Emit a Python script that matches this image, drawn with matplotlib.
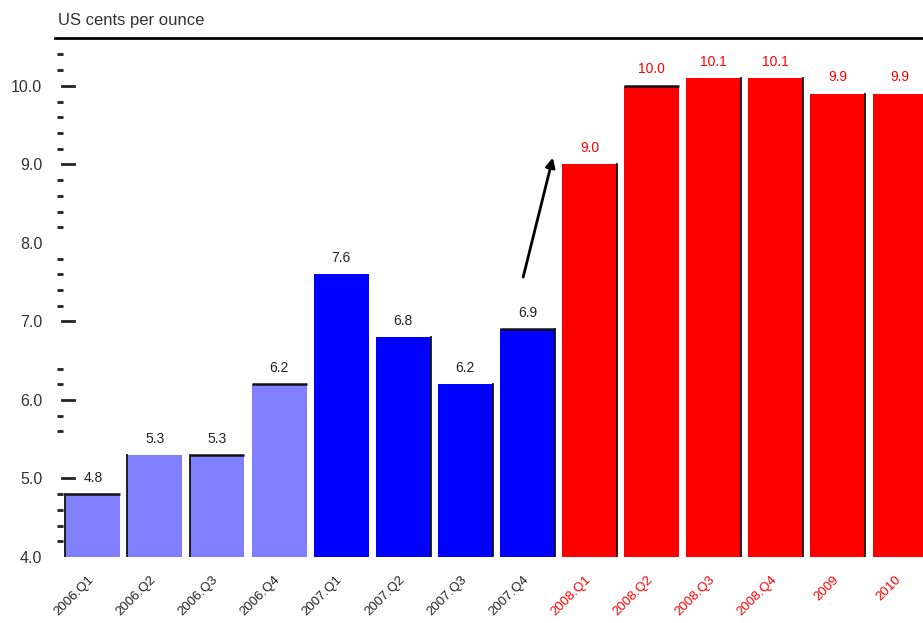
import matplotlib
matplotlib.use('Agg')
import matplotlib.pyplot as plt
import matplotlib.transforms as mtransforms
from matplotlib.lines import Line2D

plt.rcParams['font.family'] = ['Liberation Sans', 'DejaVu Sans']

# quarterly / annual prices
periods = ['2006.Q1', '2006.Q2', '2006.Q3', '2006.Q4',
           '2007.Q1', '2007.Q2', '2007.Q3', '2007.Q4',
           '2008.Q1', '2008.Q2', '2008.Q3', '2008.Q4',
           '2009', '2010']
prices = [4.8, 5.3, 5.3, 6.2, 7.6, 6.8, 6.2, 6.9, 9.0, 10.0, 10.1, 10.1, 9.9, 9.9]
bar_colors = ['#8080ff'] * 4 + ['#0000ff'] * 4 + ['#ff0000'] * 6
text_colors = ['#222222'] * 8 + ['#ff0000'] * 6

major_ticks = [5.0, 6.0, 7.0, 9.0, 10.0]
minor_ticks = [4.2, 4.4, 4.6, 4.8, 5.6, 5.8, 6.2, 6.4,
               7.2, 7.4, 7.6, 7.8, 8.2, 8.4, 8.6, 8.8,
               9.2, 9.4, 9.6, 9.8, 10.2, 10.4]
ytick_labels = ['4.0', '5.0', '6.0', '7.0', '8.0', '9.0', '10.0']
ytick_values = [4.0, 5.0, 6.0, 7.0, 8.0, 9.0, 10.0]

# dark outline pieces left over on some bars
edge_top = [1, 0, 1, 1, 0, 0, 0, 1, 0, 1, 0, 0, 0, 0]
edge_left = [1, 1, 1, 0, 0, 0, 0, 0, 0, 0, 0, 0, 0, 0]
edge_right = [0, 0, 0, 0, 0, 1, 1, 1, 1, 0, 1, 1, 1, 0]

fig = plt.figure(figsize=(9.23, 6.23), dpi=100)
W, H = 923, 623
ax = fig.add_axes([63 / W, (H - 557) / H, 1 - 63 / W, (557 - 38) / H])

x = list(range(len(prices)))
bw = 0.885
ax.bar(x, prices, width=bw, bottom=0, color=bar_colors, linewidth=0, zorder=2)

for xi, v, t, l, r in zip(x, prices, edge_top, edge_left, edge_right):
    x0, x1 = xi - bw / 2, xi + bw / 2
    if t:
        ax.plot([x0, x1], [v, v], color='#111111', lw=1.8, zorder=2.5,
                solid_capstyle='butt')
    if l:
        ax.plot([x0, x0], [4.0, v], color='#111111', lw=1.3, zorder=2.5)
    if r:
        ax.plot([x1, x1], [4.0, v], color='#111111', lw=1.3, zorder=2.5)

for xi, v, c in zip(x, prices, text_colors):
    ax.text(xi, v + 0.12, '%.1f' % v, ha='center', va='bottom',
            fontsize=10, color=c, zorder=3)

ax.set_xlim(-0.48, 13.37)
ax.set_ylim(4.0, 10.61)
for s in ['left', 'right', 'bottom', 'top']:
    ax.spines[s].set_visible(False)

ax.set_yticks(ytick_values)
ax.set_yticklabels(ytick_labels)
ax.tick_params(axis='y', which='major', length=0, pad=15, labelsize=11.5,
               labelcolor='#333333')
ax.set_yticks(minor_ticks, minor=True)
ax.tick_params(axis='y', which='minor', direction='out', length=4.5, width=2,
               color='#222222')
for t in major_ticks:
    ax.plot([-0.49, -0.31], [t, t], color='#222222', lw=2, clip_on=False, zorder=3)

ax.set_xticks(x)
ax.set_xticklabels(periods, rotation=45, ha='right', va='top',
                   rotation_mode='anchor', fontsize=9.5)
ax.tick_params(axis='x', length=0, pad=12)
shift = mtransforms.ScaledTranslation(-5 / 100, 0, fig.dpi_scale_trans)
for lbl, c in zip(ax.get_xticklabels(), text_colors):
    lbl.set_color(c)
    lbl.set_transform(lbl.get_transform() + shift)

ax.annotate('', xy=(7.42, 9.12), xytext=(6.92, 7.53),
            arrowprops=dict(arrowstyle='-|>', color='black', lw=2,
                            mutation_scale=14), zorder=4)

fig.add_artist(Line2D([55 / W, 1], [(H - 38) / H] * 2, color='black', lw=2))
fig.text(58 / W, (H - 20) / H, 'US cents per ounce', fontsize=12,
         color='#333333', va='center', ha='left')

fig.savefig('out.png', dpi=100)
